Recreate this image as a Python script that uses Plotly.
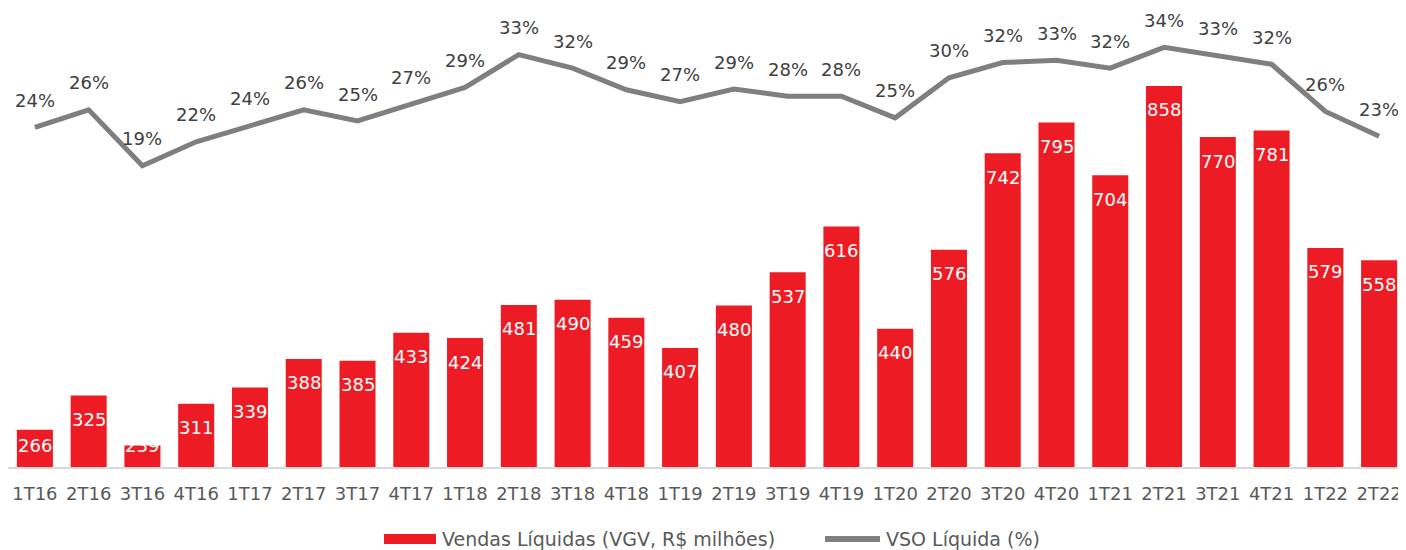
import plotly.graph_objects as go

categories = ["1T16", "2T16", "3T16", "4T16", "1T17", "2T17", "3T17", "4T17", "1T18", "2T18",
              "3T18", "4T18", "1T19", "2T19", "3T19", "4T19", "1T20", "2T20", "3T20", "4T20",
              "1T21", "2T21", "3T21", "4T21", "1T22", "2T22"]
vendas = [266, 325, 239, 311, 339, 388, 385, 433, 424, 481, 490, 459, 407, 480, 537, 616,
          440, 576, 742, 795, 704, 858, 770, 781, 579, 558]
vso = [24.2, 26.4, 19.4, 22.4, 24.4, 26.4, 25.0, 27.1, 29.2, 33.3, 31.6, 28.9, 27.4, 29.0,
       28.1, 28.1, 25.4, 30.4, 32.3, 32.6, 31.6, 34.2, 33.2, 32.1, 26.2, 23.1]
vso_labels = ["24%", "26%", "19%", "22%", "24%", "26%", "25%", "27%", "29%", "33%", "32%",
              "29%", "27%", "29%", "28%", "28%", "25%", "30%", "32%", "33%", "32%", "34%",
              "33%", "32%", "26%", "23%"]

RED = "#ED1C24"
GRAY = "#7F7F7F"
FONT = "DejaVu Sans"

fig = go.Figure()
fig.add_trace(go.Bar(x=categories, y=vendas, marker_color=RED, marker_line_width=0,
                     name="Vendas Líquidas (VGV, R$ milhões)", showlegend=False,
                     hoverinfo="x+y"))
fig.add_trace(go.Scatter(x=categories, y=vso, yaxis="y2", mode="lines",
                         line=dict(color=GRAY, width=5), name="VSO Líquida (%)",
                         showlegend=False))

label_floor = 281  # lowest anchor for in-bar labels (axis units)
annotations = []
for c, v in zip(categories, vendas):
    annotations.append(dict(x=c, y=max(v, label_floor), xref="x", yref="y", text=str(v),
                            showarrow=False, yshift=-24, yanchor="middle",
                            font=dict(family=FONT, size=18, color="white")))
for c, v, t in zip(categories, vso, vso_labels):
    annotations.append(dict(x=c, y=v, xref="x", yref="y2", text=t, showarrow=False,
                            yshift=27, yanchor="middle",
                            font=dict(family=FONT, size=18, color="#404040")))

# page offset (body margin) compensation
OFF = 8
L, W, TOP, H = 8, 1398, 10, 457
def px(x): return (x - L) / W
def py(y): return (TOP + H - y) / H

annotations.append(dict(x=px(440), y=py(539), xref="paper", yref="paper",
                        text="Vendas Líquidas (VGV, R$ milhões)", showarrow=False,
                        xanchor="left", yanchor="middle",
                        font=dict(family=FONT, size=19, color="#595959")))
annotations.append(dict(x=px(884), y=py(539), xref="paper", yref="paper",
                        text="VSO Líquida (%)", showarrow=False,
                        xanchor="left", yanchor="middle",
                        font=dict(family=FONT, size=19, color="#595959")))
shapes = [
    dict(type="rect", xref="paper", yref="paper", x0=px(384), x1=px(436),
         y0=py(544), y1=py(534), fillcolor=RED, line_width=0),
    dict(type="line", xref="paper", yref="paper", x0=px(825), x1=px(880),
         y0=py(539), y1=py(539), line=dict(color=GRAY, width=6)),
]

fig.update_layout(
    width=1406 - OFF, height=550 - OFF,
    margin=dict(l=L - OFF, r=0, t=TOP - OFF, b=550 - TOP - H),
    plot_bgcolor="white", paper_bgcolor="white",
    bargap=0.33,
    xaxis=dict(type="category", showgrid=False, showline=True, linecolor="#D9D9D9",
               linewidth=2, ticks="outside", ticklen=9, tickcolor="rgba(0,0,0,0)",
               tickfont=dict(family=FONT, size=18, color="#595959")),
    yaxis=dict(range=[202, 988.6], visible=False, showgrid=False),
    yaxis2=dict(range=[-18.25, 38.875], overlaying="y", visible=False, showgrid=False),
    annotations=annotations, shapes=shapes, showlegend=False,
)

fig.write_html("out.html")
